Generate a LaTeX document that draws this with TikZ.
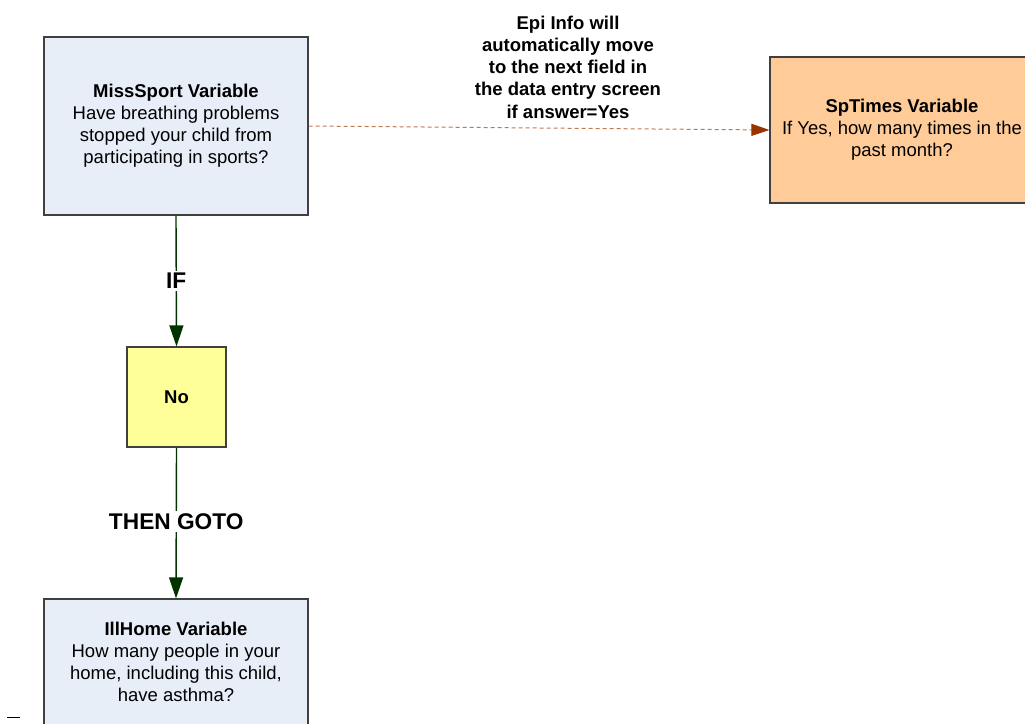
\documentclass[tikz,border=0pt]{standalone}
\usepackage{fontspec}
\setmainfont{Liberation Sans}
\usetikzlibrary{arrows.meta}
\definecolor{boxblue}{HTML}{E8EEF8}
\definecolor{boxorange}{HTML}{FFCC99}
\definecolor{boxyellow}{HTML}{FFFF99}
\definecolor{bordergray}{HTML}{404040}
\definecolor{darkgreen}{HTML}{003300}
\definecolor{dashbrown}{HTML}{C07850}
\definecolor{tipbrown}{HTML}{993300}
\tikzset{
  varbox/.style={draw=bordergray, line width=1.2pt, minimum width=264pt, align=center, inner sep=0pt,
    font=\fontsize{18.5}{22}\selectfont},
  flow/.style={draw=darkgreen, line width=1.4pt, -{Triangle[length=21pt,width=14pt]}},
  flowlabel/.style={fill=white, inner sep=2pt, font=\fontsize{22.7}{26}\selectfont\bfseries},
  jump/.style={draw=dashbrown, line width=1pt, dash pattern=on 4pt off 3pt,
    -{Triangle[length=18pt,width=12pt,color=tipbrown,fill=tipbrown]}},
}
\begin{document}
\begin{tikzpicture}[x=1pt,y=-1pt]
\useasboundingbox[fill=white] (0,0) rectangle (1025,723);
\node[varbox, fill=boxblue, minimum height=178pt] (miss) at (176,126)
  {\textbf{MissSport Variable}\\Have breathing problems\\stopped your child from\\participating in sports?};
\node[varbox, fill=boxorange, minimum height=146pt] (sp) at (902,130)
  {\textbf{SpTimes Variable}\\If Yes, how many times in the\\past month?};
\node[varbox, fill=boxyellow, minimum width=99pt, minimum height=100pt, font=\fontsize{18.5}{22}\selectfont\bfseries] (no) at (176.5,397) {No};
\node[varbox, fill=boxblue, minimum height=126pt] (ill) at (176,662)
  {\textbf{IllHome Variable}\\How many people in your\\home, including this child,\\have asthma?};
\draw[flow] (miss.south) -- node[flowlabel, pos=0.5] {IF} (no.north);
\draw[flow] (no.south) -- node[flowlabel, pos=0.49] {THEN GOTO} (ill.north);
\draw[jump] (miss.east) -- (sp.west);
\node[align=center, font=\fontsize{18.5}{22.3}\selectfont\bfseries] (epi) at (568,67)
  {Epi Info will\\automatically move\\to the next field in\\the data entry screen\\if answer=Yes};
\draw[line width=0.8pt, black] (7,717) -- (20,717);
\end{tikzpicture}
\end{document}
